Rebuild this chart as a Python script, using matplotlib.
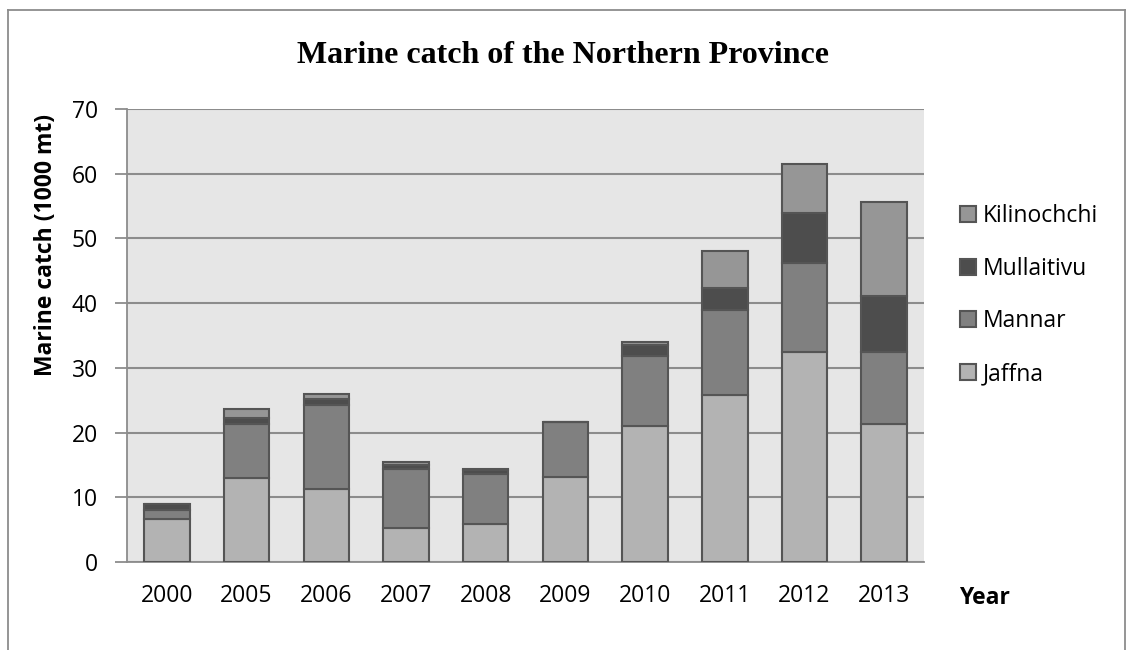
import matplotlib
matplotlib.use("Agg")
import matplotlib.pyplot as plt
from matplotlib.lines import Line2D
import numpy as np

# Marine catch by district (1000 mt)
years = ["2000", "2005", "2006", "2007", "2008", "2009", "2010", "2011", "2012", "2013"]
jaffna = [6.7, 13.0, 11.3, 5.3, 5.9, 13.2, 21.0, 25.8, 32.5, 21.4]
mannar = [1.35, 8.3, 12.9, 9.1, 7.7, 8.4, 10.9, 13.1, 13.7, 11.1]
mullaitivu = [0.95, 1.0, 1.0, 0.65, 0.55, 0.0, 1.6, 3.5, 7.8, 8.6]
kilinochchi = [0.0, 1.4, 0.8, 0.45, 0.2, 0.0, 0.5, 5.7, 7.45, 14.6]

series = [("Jaffna", jaffna, "#b3b3b3"),
          ("Mannar", mannar, "#808080"),
          ("Mullaitivu", mullaitivu, "#4d4d4d"),
          ("Kilinochchi", kilinochchi, "#969696")]

sans = ["Open Sans", "DejaVu Sans"]
fs = 16.5

fig = plt.figure(figsize=(11.28, 6.5), dpi=100)
ax = fig.add_axes([0.1126, 0.1354, 0.7066, 0.6969])
ax.set_facecolor("#e6e6e6")

x = np.arange(len(years))
bottom = np.zeros(len(years))
handles = []
for name, vals, col in series:
    vals = np.array(vals)
    b = ax.bar(x, vals, width=0.57, bottom=bottom, color=col,
               edgecolor="#555555", linewidth=1.5, zorder=3, label=name)
    handles.append(b)
    bottom += vals

ax.set_xlim(-0.5, len(years) - 0.5)
ax.set_ylim(0, 70)
ax.set_yticks(range(0, 71, 10))
ax.set_xticks(x)
ax.set_xticklabels(years)
ax.yaxis.grid(True, color="#8c8c8c", linewidth=1.5, zorder=1)
ax.set_axisbelow(True)

for s in ["top", "right"]:
    ax.spines[s].set_visible(False)
ax.spines["left"].set_color("#8c8c8c")
ax.spines["bottom"].set_color("#8c8c8c")
ax.spines["left"].set_linewidth(1.3)
ax.spines["bottom"].set_linewidth(1.3)
ax.tick_params(axis="y", length=9, width=1.3, color="#8c8c8c", pad=12)
ax.tick_params(axis="x", length=0, pad=16)
for lab in ax.get_xticklabels() + ax.get_yticklabels():
    lab.set_fontfamily(sans)
    lab.set_fontsize(fs)

fig.text(0.499, 0.915, "Marine catch of the Northern Province",
         ha="center", va="center", fontsize=23, fontweight="bold",
         family="Liberation Serif")
fig.text(0.041, 0.623, "Marine catch (1000 mt)", rotation=90,
         ha="center", va="center", fontsize=fs, fontweight="bold", family=sans)
fig.text(0.873, 0.08, "Year", ha="center", va="center",
         fontsize=fs, fontweight="bold", family=sans)

leg = fig.legend(handles[::-1], [s[0] for s in series][::-1],
                 loc="center left", bbox_to_anchor=(0.833, 0.546),
                 frameon=False, prop={"family": sans, "size": fs},
                 handlelength=0.7, handleheight=0.7, handletextpad=0.3,
                 labelspacing=1.25)

# outer chart border
for xs, ys in [([0.007, 0.007], [0.0, 0.985]),
               ([0.007, 0.997], [0.985, 0.985]),
               ([0.997, 0.997], [0.0, 0.985])]:
    fig.add_artist(Line2D(xs, ys, transform=fig.transFigure,
                          color="#8c8c8c", linewidth=1.3))

fig.savefig("out.png", dpi=100)
